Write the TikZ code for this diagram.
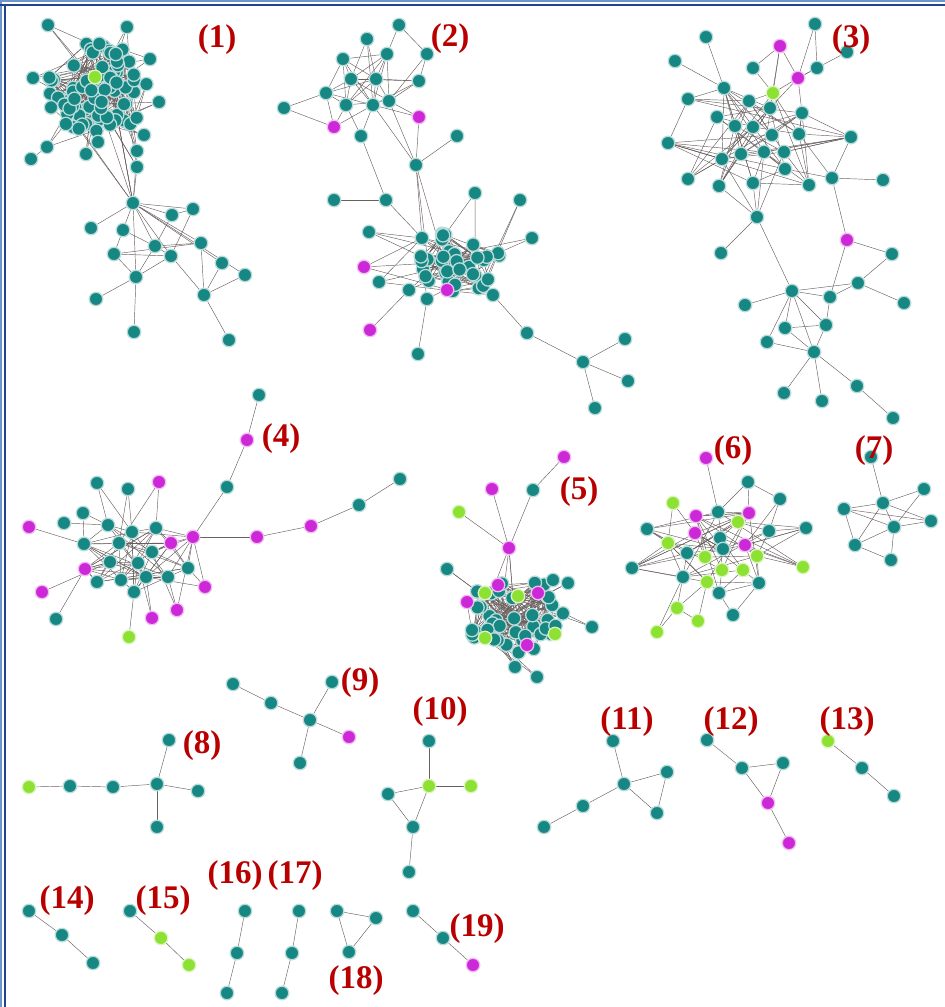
\documentclass[tikz,border=0pt]{standalone}
\usepackage{fontspec}
\setmainfont{Liberation Serif}
\usetikzlibrary{backgrounds}
\definecolor{T}{RGB}{22,135,130}
\definecolor{M}{RGB}{205,40,215}
\definecolor{G}{RGB}{140,225,50}
\definecolor{edgegray}{RGB}{105,95,95}
\definecolor{labred}{RGB}{185,0,0}
\definecolor{framedark}{RGB}{30,70,140}
\definecolor{framelight}{RGB}{110,150,205}

\begin{document}
\begin{tikzpicture}[x=1pt,y=-1pt,
        nd/.style={circle,inner sep=0pt,minimum size=13.5pt,line width=1.3pt},
        ln/.style={draw=edgegray,line width=0.45pt},
        num/.style={text=labred,font=\fontsize{33}{33}\selectfont\bfseries}]
    \useasboundingbox (0,0) rectangle (945,1007);
    \fill[framelight] (0,0) rectangle (945,2);
    \fill[framelight] (0,0) rectangle (2,1007);
    \draw[framedark,line width=2pt] (0,4.5) -- (945,4.5);
    \draw[framedark,line width=2pt] (4.5,4.5) -- (4.5,1007);
    \pgfmathsetseed{42}
    % dense cores
    \foreach \i in {1,...,80}{\pgfmathsetmacro\r{sqrt(rnd)}\pgfmathsetmacro\t{360*rnd}
        \node[nd,fill=T,draw=T!30] (A\i) at ({97+50*\r*cos(\t)},{88+50*\r*sin(\t)}) {};}
    \node[nd,fill=G,draw=G!30] (Ag) at (95,77) {};
    \foreach \i in {1,...,36}{\pgfmathsetmacro\r{sqrt(rnd)}\pgfmathsetmacro\t{360*rnd}
        \node[nd,fill=T,draw=T!30] (N\i) at ({460+40*\r*cos(\t)},{262+32*\r*sin(\t)}) {};}
    \foreach \i in {1,...,40}{\pgfmathsetmacro\r{sqrt(rnd)}\pgfmathsetmacro\t{360*rnd}
        \node[nd,fill=T,draw=T!30] (F\i) at ({513+52*\r*cos(\t)},{615+38*\r*sin(\t)}) {};}
    % nodes
    \foreach \n/\col/\x/\y in {a1/T/48/25,a2/T/127/27,a3/T/150/59,a4/T/33/78,a5/T/159/102,a6/T/144/135,
        a7/T/47/147,a8/T/31/159,a9/T/86/154,a10/T/137/151,a11/T/137/167,a12/T/98/142,
        h/T/133/203,b1/T/193/209,b2/T/172/215,b3/T/91/228,b4/T/123/230,b5/T/155/246,b6/T/201/243,
        b7/T/114/254,b8/T/171/256,b9/T/222/263,b10/T/245/275,b11/T/136/277,b12/T/96/299,
        b13/T/204/295,b14/T/134/332,b15/T/229/340,
        m1/T/399/25,m2/T/367/39,m3/T/343/59,m4/T/387/54,m5/T/427/54,m6/T/351/79,m7/T/376/79,
        m8/T/419/81,m9/T/326/93,m10/T/346/105,m11/T/373/105,m12/T/389/101,m13/T/284/108,
        m14/M/334/127,m15/M/419/117,m16/T/361/136,m17/T/457/136,m18/T/416/165,m19/T/334/200,m20/T/386/200,
        n1/T/475/193,n2/T/520/200,n3/T/369/232,n4/T/532/238,n5/M/364/267,n6/T/379/282,n7/T/409/290,
        n8/T/427/299,n9/M/447/290,n10/T/493/295,n11/M/370/330,n12/T/418/354,n13/T/527/333,
        n14/T/583/362,n15/T/625/339,n16/T/628/381,n17/T/595/408,n18/T/422/238,
        r1/T/815/24,r2/T/706/37,r3/M/780/46,r4/T/847/52,r5/T/675/61,r6/T/753/68,r7/T/817/68,
        r8/M/798/78,r9/T/724/88,r10/G/773/93,r11/T/688/99,r12/T/749/101,r13/T/770/108,r14/T/802/113,
        r15/T/717/117,r16/T/735/126,r17/T/753/127,r18/T/772/135,r19/T/799/134,r20/T/851/137,
        r21/T/668/143,r22/T/722/159,r23/T/741/154,r24/T/764/152,r25/T/784/152,r26/T/785/169,
        r27/T/688/179,r28/T/719/186,r29/T/753/183,r30/T/809/185,r31/T/832/178,r32/T/883/180,
        r33/T/757/217,r34/T/721/253,
        s1/M/847/240,s2/T/892/254,s3/T/858/283,s4/T/792/291,s5/T/830/297,s6/T/745/305,s7/T/904/303,
        s8/T/785/328,s9/T/826/325,s10/T/767/342,s11/T/814/352,s12/T/784/393,s13/T/822/401,
        s14/T/857/386,s15/T/893/418,
        d1/T/259/395,d2/M/247/440,d3/T/227/487,d4/T/400/479,d5/T/359/505,d6/M/311/526,d7/M/257/537,d8/M/193/537,
        e1/T/97/483,e2/T/128/489,e3/M/159/482,e4/T/83/513,e5/T/64/523,e6/M/29/527,e7/T/108/525,
        e8/T/132/532,e9/T/156/528,e10/M/171/543,e11/T/84/544,e12/T/119/543,e13/T/152/552,
        e14/T/110/562,e15/T/138/563,e16/T/188/568,e17/M/85/569,e18/T/97/582,e19/T/121/580,
        e20/T/146/577,e21/T/168/577,e22/T/134/592,e23/M/205/587,e24/M/42/592,e25/M/177/610,
        e26/M/152/618,e27/T/56/619,e28/G/129/637,
        f1/M/564/457,f2/M/492/489,f3/T/533/490,f4/G/459/512,f5/M/509/548,f6/T/447/569,f7/T/553/580,
        f8/T/568/583,f9/M/498/585,f10/G/485/593,f11/G/518/596,f12/M/538/593,f13/M/467/602,
        f14/T/592/627,f15/G/555/634,f16/G/485/638,f17/M/527/645,f18/T/472/630,f19/T/515/667,f20/T/537/677,
        g1/M/706/458,g2/T/748/482,g3/T/780/499,g4/G/673/503,g5/M/696/516,g6/T/718/512,g7/M/749/513,
        g8/G/738/522,g9/T/647/529,g10/M/695/533,g11/T/769/531,g12/T/806/528,g13/G/668/543,
        g14/M/745/545,g15/T/720/538,g16/T/687/553,g17/G/705/557,g18/T/723/549,g19/G/757/556,
        g20/T/632/568,g21/G/803/567,g22/T/683/577,g23/G/722/570,g24/G/743/570,g25/G/707/582,
        g26/T/759/583,g27/T/719/593,g28/G/677/608,g29/G/698/621,g30/T/733/615,g31/G/657/632,
        q1/T/871/457,q2/T/924/489,q3/T/883/503,q4/T/844/509,q5/T/931/521,q6/T/894/527,q7/T/855/545,q8/T/891/560,
        u1/G/29/787,u2/T/70/786,u3/T/113/787,u4/T/157/784,u5/T/169/740,u6/T/198/791,u7/T/157/827,
        v1/T/233/684,v2/T/271/703,v3/T/310/720,v4/T/332/682,v5/M/349/737,v6/T/300/763,
        w1/T/429/741,w2/G/429/786,w3/G/471/786,w4/T/388/794,w5/T/413/827,w6/T/409/872,
        x1/T/613/741,x2/T/624/784,x3/T/667/772,x4/T/657/813,x5/T/583/806,x6/T/544/827,
        y1/T/707/740,y2/T/742/768,y3/T/783/763,y4/M/768/803,y5/M/789/843,
        z1/G/828/741,z2/T/862/768,z3/T/894/796,
        o1/T/29/911,o2/T/62/935,o3/T/93/963,
        p1/T/130/911,p2/G/161/938,p3/G/189/965,
        i1/T/245/911,i2/T/237/953,i3/T/227/993,
        k1/T/299/911,k2/T/292/953,k3/T/282/993,
        t1/T/337/911,t2/T/376/918,t3/T/349/952,
        c1/T/413/911,c2/T/443/938,c3/M/473/965}
        \node[nd,fill=\col,draw=\col!30] (\n) at (\x,\y) {};
    % labels
    \foreach \n/\x/\y/\txt in {L1/217/40/1,L2/450/39/2,L3/851/40/3,L4/281/439/4,L5/579/492/5,
        L6/733/451/6,L7/874/451/7,L8/202/746/8,L9/360/683/9,L10/440/712/10,L11/627/722/11,
        L12/731/722/12,L13/847/722/13,L14/67/901/14,L15/163/901/15,L16/235/876/16,
        L17/295/876/17,L18/356/981/18,L19/477/929/19}
        \node[num] (\n) at (\x,\y) {(\txt)};
    % connectors
    \begin{pgfonlayer}{background}
    \foreach \i in {1,...,80}{\foreach \k in {1,...,4}{\pgfmathrandominteger\j{1}{80}\draw[ln] (A\i) -- (A\j);}}
    \foreach \n in {a1,a2,a3,a4,a5,a6,a7,a9,a10,a11,a12,Ag,Ag}{\foreach \k in {1,2,3}{\pgfmathrandominteger\j{1}{80}\draw[ln] (\n) -- (A\j);}}
    \foreach \k in {1,...,6}{\pgfmathrandominteger\j{1}{80}\draw[ln] (A\j) -- (h);}
    \foreach \i in {1,...,36}{\foreach \k in {1,...,4}{\pgfmathrandominteger\j{1}{36}\draw[ln] (N\i) -- (N\j);}}
    \foreach \n in {n1,n2,n4,n5,n6,n7,n8,n9,n10,n18,n18,m18,n3}{\foreach \k in {1,2}{\pgfmathrandominteger\j{1}{36}\draw[ln] (\n) -- (N\j);}}
    \foreach \i in {1,...,40}{\foreach \k in {1,...,4}{\pgfmathrandominteger\j{1}{40}\draw[ln] (F\i) -- (F\j);}}
    \foreach \n in {f5,f5,f6,f7,f8,f9,f10,f11,f12,f13,f14,f15,f16,f17,f18,f19,f19,f20}{\foreach \k in {1,2}{\pgfmathrandominteger\j{1}{40}\draw[ln] (\n) -- (F\j);}}
    \foreach \i in {9,...,30}{\foreach \k in {1,2,3}{\pgfmathrandominteger\j{9}{30}\draw[ln] (r\i) -- (r\j);}}
    \foreach \i in {7,...,22}{\foreach \k in {1,...,4}{\pgfmathrandominteger\j{7}{22}\draw[ln] (e\i) -- (e\j);}}
    \foreach \i in {5,...,27}{\foreach \k in {1,2,3}{\pgfmathrandominteger\j{5}{27}\draw[ln] (g\i) -- (g\j);}}
    \foreach \u/\v in {a7/a8,a11/h,a10/h,h/b1,h/b2,h/b3,h/b4,h/b5,h/b6,h/b8,h/b9,h/b10,h/b11,
        b4/b5,b4/b7,b7/b11,b7/b8,b5/b8,b5/b11,b2/b5,b1/b8,b6/b13,b8/b13,b9/b13,b10/b13,
        b11/b12,b11/b14,b13/b15,b5/b6,b7/b6,b8/b11,b1/b2,
        m1/m4,m1/m5,m5/m12,m2/m6,m2/m7,m3/m6,m3/m7,m3/m4,m3/m10,m3/m11,m4/m6,m4/m7,m4/m11,
        m4/m12,m4/m10,m6/m7,m6/m8,m6/m10,m6/m11,m6/m12,m7/m8,m7/m11,m7/m12,m7/m10,m8/m12,
        m8/m11,m9/m6,m9/m7,m9/m10,m9/m11,m9/m14,m13/m9,m13/m14,m10/m14,m11/m14,m10/m16,
        m11/m16,m12/m15,m11/m15,m2/m11,m16/m20,m20/m19,m11/m18,m12/m18,m15/m18,m17/m18,
        m3/m9,m12/m10,m5/m8,m20/n18,m18/n18,n3/n18,n5/n18,n6/n18,n7/n11,n8/n12,n10/n13,
        n13/n14,n14/n15,n14/n16,n14/n17,
        r1/r7,r1/r8,r3/r6,r3/r8,r3/r10,r3/r13,r4/r8,r7/r8,r6/r10,r8/r10,r8/r13,r8/r14,r2/r9,
        r5/r9,r9/r13,r11/r21,r11/r12,r21/r22,r27/r22,r28/r17,r29/r33,r33/r22,r33/r28,r33/r24,
        r33/r25,r33/r34,r31/r19,r31/r26,r31/r20,r31/r32,r31/s1,r30/r19,r20/r19,r10/r13,r10/r12,
        r33/s4,s1/s2,s1/s5,s2/s3,s3/s4,s3/s7,s3/s5,s4/s6,s4/s8,s4/s11,s4/s10,s4/s5,s8/s9,
        s5/s9,s9/s11,s8/s11,s10/s11,s11/s12,s11/s13,s11/s14,s14/s15,s4/s9,
        d1/d2,d2/d3,d3/d8,d8/d7,d7/d6,d6/d5,d5/d4,e1/e7,e1/e8,e2/e8,e2/e12,e3/e9,e3/e12,
        e4/e7,e4/e11,e5/e7,e6/e11,e24/e14,e27/e17,e17/e12,e28/e22,e26/e20,e26/e15,e25/e21,
        e25/e13,e23/e16,e23/e20,e10/e9,e10/e13,d8/e9,d8/e10,d8/e13,d8/e16,d8/e20,d8/e21,
        d8/e23,d8/e25,d8/e8,
        f1/f3,f3/f5,f2/f5,f4/f5,
        g1/g6,g2/g6,g2/g7,g2/g3,g3/g11,g3/g14,g4/g10,g4/g13,g9/g13,g9/g16,g12/g11,g12/g14,
        g20/g22,g20/g16,g21/g19,g21/g14,g28/g22,g28/g25,g29/g25,g29/g28,g30/g27,g30/g26,
        g31/g28,g31/g22,
        q1/q3,q3/q4,q3/q6,q3/q5,q3/q7,q4/q7,q4/q6,q6/q2,q6/q5,q6/q7,q6/q8,q7/q8,q4/q5,q2/q3,
        u1/u2,u2/u3,u3/u4,u4/u5,u4/u6,u4/u7,v1/v2,v2/v3,v3/v4,v3/v5,v3/v6,
        w2/w1,w2/w3,w2/w4,w2/w5,w4/w5,w5/w6,x1/x2,x2/x3,x2/x4,x3/x4,x2/x5,x5/x6,
        y1/y2,y2/y3,y2/y4,y3/y4,y4/y5,z1/z2,z2/z3,o1/o2,o2/o3,p1/p2,p2/p3,
        i1/i2,i2/i3,k1/k2,k2/k3,t1/t2,t2/t3,t3/t1,c1/c2,c2/c3}
        \draw[ln] (\u) -- (\v);
    \end{pgfonlayer}
\end{tikzpicture}
\end{document}
